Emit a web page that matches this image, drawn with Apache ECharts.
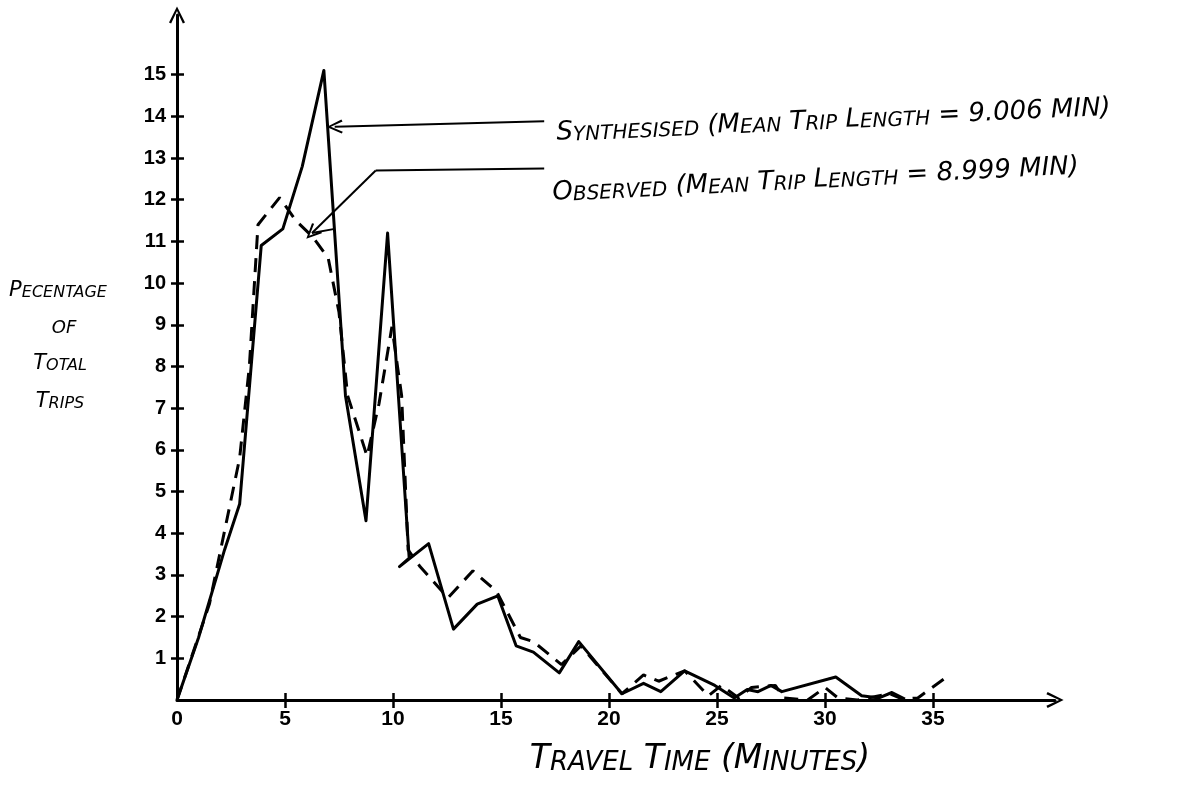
<!DOCTYPE html>
<html><head><meta charset="utf-8">
<script src="https://cdn.jsdelivr.net/npm/echarts@6/dist/echarts.min.js"></script>
<style>html,body{margin:0;padding:0;background:#fff}#c{width:1202px;height:785px}</style>
</head><body><div id="c"></div>
<script>
// ---- data ----
const synthX = [0, 1.0, 2.2, 2.9, 3.9, 4.9, 5.8, 6.8, 7.8, 8.75, 9.75, 10.75, 10.3, 11.65, 12.8, 13.9, 14.85, 15.7, 16.5, 17.7, 18.6, 20.6, 21.6, 22.4, 23.5, 24.3, 24.9, 25.8, 26.4, 26.9, 27.5, 28.0, 30.5, 31.7, 32.5, 33.1, 33.7];
const synthY = [0, 1.5, 3.6, 4.7, 10.9, 11.3, 12.8, 15.1, 7.3, 4.3, 11.2, 3.4, 3.2, 3.75, 1.7, 2.3, 2.5, 1.3, 1.15, 0.65, 1.4, 0.15, 0.4, 0.2, 0.7, 0.5, 0.35, 0.05, 0.25, 0.2, 0.35, 0.2, 0.55, 0.1, 0.05, 0.18, 0.02];
const obsX = [0, 1.5, 2.9, 3.35, 3.75, 4.75, 5.5, 6.3, 7.0, 7.5, 7.9, 8.8, 9.35, 9.95, 10.4, 10.7, 11.25, 12.55, 13.7, 14.8, 15.9, 16.5, 17.8, 18.7, 20.6, 21.6, 22.3, 23.5, 24.6, 25.2, 26.0, 26.6, 27.7, 28.1, 29.2, 30.0, 30.6, 31.5, 33.0, 33.6, 34.3, 35.5];
const obsY = [0, 2.3, 5.8, 8.0, 11.4, 12.05, 11.5, 11.1, 10.6, 9.3, 7.3, 5.85, 7.1, 8.95, 7.3, 3.6, 3.2, 2.45, 3.1, 2.6, 1.5, 1.4, 0.85, 1.3, 0.15, 0.6, 0.45, 0.7, 0.1, 0.35, 0.05, 0.3, 0.35, 0.05, 0.0, 0.3, 0.05, 0.0, 0.15, 0.02, 0.05, 0.5];
const xTickLabels = [0, 5, 10, 15, 20, 25, 30, 35];
const yTickLabels = [1, 2, 3, 4, 5, 6, 7, 8, 9, 10, 11, 12, 13, 14, 15];
const synthLabel = 'Synthesised (Mean Trip Length = 9.006 MIN)';
const obsLabel = 'Observed (Mean Trip Length = 8.999 MIN)';
const xName = 'Travel Time (Minutes)';
const yNameLines = ['Pecentage', 'OF', 'Total', 'Trips'];

// ---- helpers ----
const FONT = 'DejaVu Sans';
function sc(str) {
  let out = '', cur = null, buf = '';
  for (const ch of str) {
    const isLower = ch >= 'a' && ch <= 'z';
    const st = isLower ? 's' : 'b';
    const c = isLower ? ch.toUpperCase() : ch;
    if (st !== cur) { if (buf) out += '{' + cur + '|' + buf + '}'; buf = ''; cur = st; }
    buf += c;
  }
  if (buf) out += '{' + cur + '|' + buf + '}';
  return out;
}
function rich(big, small) {
  return {
    b: { fontSize: big, fontStyle: 'italic', fontFamily: FONT, fill: '#000', verticalAlign: 'bottom', lineHeight: big + 4 },
    s: { fontSize: small, fontStyle: 'italic', fontFamily: FONT, fill: '#000', verticalAlign: 'bottom', lineHeight: big + 4 }
  };
}
const chevron = 'path://M0,12 L6,0 L12,12 L10.4,12.9 L6,3.4 L1.6,12.9 Z';

const XMAX = 40.65, YMAX = 16.43;
const axisStyle = { color: '#000', width: 3 };
const labelStyle = { color: '#000', fontFamily: 'Liberation Sans', fontWeight: 'bold', fontSize: 20 };

const chart = echarts.init(document.getElementById('c'), null, { renderer: 'canvas' });
chart.setOption({
  animation: false,
  backgroundColor: '#fff',
  grid: { left: 177, right: 147, top: 15, bottom: 85, containLabel: false },
  xAxis: [
    { type: 'value', min: 0, max: XMAX, splitLine: { show: false },
      axisLine: { show: true, onZero: false, lineStyle: axisStyle, symbol: ['none', chevron], symbolSize: [16, 20] },
      axisTick: { show: true, customValues: xTickLabels.slice(1), length: 8, lineStyle: { color: '#000', width: 2.5 } },
      axisLabel: { show: true, customValues: xTickLabels, margin: 9, ...labelStyle, fontSize: 21 } },
    { type: 'value', min: 0, max: XMAX, splitLine: { show: false }, position: 'bottom',
      axisLine: { show: false }, axisLabel: { show: false },
      axisTick: { show: true, inside: true, customValues: xTickLabels.slice(1), length: 7, lineStyle: { color: '#000', width: 2.5 } } }
  ],
  yAxis: [
    { type: 'value', min: 0, max: YMAX, splitLine: { show: false },
      axisLine: { show: true, onZero: false, lineStyle: axisStyle, symbol: ['none', chevron], symbolSize: [16, 20] },
      axisTick: { show: true, customValues: yTickLabels, length: 6, lineStyle: { color: '#000', width: 2.5 } },
      axisLabel: { show: true, customValues: yTickLabels, margin: 11, ...labelStyle } },
    { type: 'value', min: 0, max: YMAX, splitLine: { show: false }, position: 'left',
      axisLine: { show: false }, axisLabel: { show: false },
      axisTick: { show: true, inside: true, customValues: yTickLabels, length: 7, lineStyle: { color: '#000', width: 2.5 } } }
  ],
  series: [
    { name: 'Synthesised', type: 'line', xAxisIndex: 0, yAxisIndex: 0, symbol: 'none', silent: true,
      data: synthX.map((x, i) => [x, synthY[i]]),
      lineStyle: { color: '#000', width: 3, join: 'round' },
      markLine: { silent: true, symbol: ['none', chevron], symbolSize: [14, 16], label: { show: false },
        lineStyle: { color: '#000', width: 2, type: 'solid' },
        data: [
          [{ coord: [17.0, 13.88] }, { coord: [7.3, 13.75] }],
          [{ coord: [9.2, 12.7], symbol: 'none' }, { coord: [6.25, 11.2] }]
        ] } },
    { name: 'Observed', type: 'line', xAxisIndex: 0, yAxisIndex: 0, symbol: 'none', silent: true,
      data: obsX.map((x, i) => [x, obsY[i]]),
      lineStyle: { color: '#000', width: 3, type: [14, 9] },
      markLine: { silent: true, symbol: ['none', 'none'], label: { show: false },
        lineStyle: { color: '#000', width: 2, type: 'solid' },
        data: [
          [{ coord: [17.0, 12.75] }, { coord: [9.2, 12.7] }],
          [{ coord: [6.25, 11.2] }, { coord: [7.3, 11.3] }]
        ] } }
  ],
  graphic: [
    { type: 'text', x: 557, y: 146, rotation: 0.045, style: { text: sc(synthLabel), rich: rich(26, 20), verticalAlign: 'bottom' } },
    { type: 'text', x: 553, y: 206, rotation: 0.05, style: { text: sc(obsLabel), rich: rich(26, 20), verticalAlign: 'bottom' } },
    { type: 'text', x: 700, y: 776, style: { text: sc(xName), rich: rich(33, 26), align: 'center', verticalAlign: 'bottom' } },
    { type: 'text', x: 58, y: 301, style: { text: sc(yNameLines[0]), rich: rich(21, 16), align: 'center', verticalAlign: 'bottom' } },
    { type: 'text', x: 64, y: 337, style: { text: sc(yNameLines[1]), rich: rich(18, 16), align: 'center', verticalAlign: 'bottom' } },
    { type: 'text', x: 60, y: 374, style: { text: sc(yNameLines[2]), rich: rich(21, 16), align: 'center', verticalAlign: 'bottom' } },
    { type: 'text', x: 60, y: 412, style: { text: sc(yNameLines[3]), rich: rich(21, 16), align: 'center', verticalAlign: 'bottom' } }
  ]
});
</script>
</body></html>
